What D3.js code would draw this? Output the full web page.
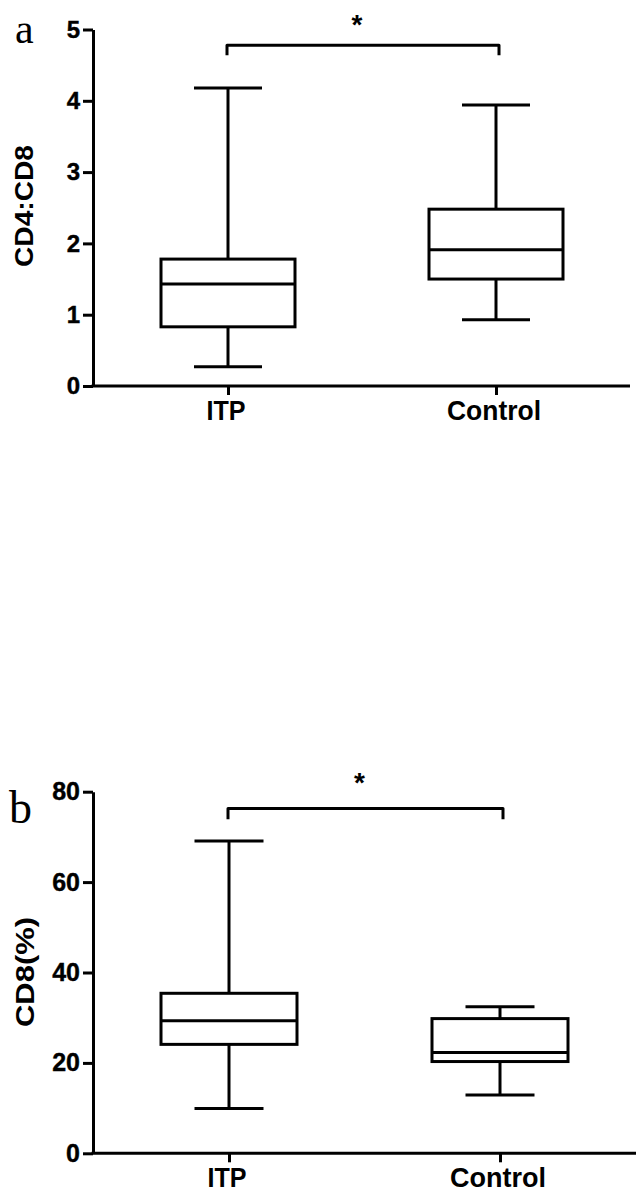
<!DOCTYPE html>
<html>
<head>
<meta charset="utf-8">
<script src="https://cdn.jsdelivr.net/npm/d3@7"></script>
<style>
  html, body { margin: 0; padding: 0; background: #fff; }
  svg { display: block; }
</style>
</head>
<body>
<svg id="chart" width="636" height="1192"></svg>
<script>
// ---------- DATA ----------
const categories = ["ITP", "Control"];

// Panel a: CD4:CD8 ratio
const ratioWhiskerLow  = [0.27, 0.93];
const ratioQ1          = [0.83, 1.50];
const ratioMedian      = [1.43, 1.91];
const ratioQ3          = [1.78, 2.48];
const ratioWhiskerHigh = [4.18, 3.94];
const ratioTicks       = [0, 1, 2, 3, 4, 5];
const ratioBracket     = [4.78, 4.64]; // bar level, drop level
const ratioLabel       = "CD4:CD8";

// Panel b: CD8 (%)
const cd8WhiskerLow  = [9.9, 12.9];
const cd8Q1          = [24.1, 20.3];
const cd8Median      = [29.3, 22.3];
const cd8Q3          = [35.4, 29.8];
const cd8WhiskerHigh = [69.1, 32.4];
const cd8Ticks       = [0, 20, 40, 60, 80];
const cd8Bracket     = [76.3, 73.9];
const cd8Label       = "CD8(%)";

const sigMark = "*";
const panelLetters = ["a", "b"];

// ---------- DRAW ----------
const svg = d3.select("#chart");
const SANS = "'Liberation Sans', Arial, Helvetica, sans-serif";
const SERIF = "'Liberation Serif', 'Times New Roman', serif";
const SW = 3;

function drawPanel(p) {
  const g = svg.append("g");
  const y = d3.scaleLinear().domain([0, p.ticks[p.ticks.length - 1]]).range([p.y0, p.y1]);
  const x = d3.scalePoint().domain(categories).range([p.xc0, p.xc1]);

  // y axis
  const yAxis = d3.axisLeft(y).tickValues(p.ticks).tickSize(10).tickSizeOuter(0).tickPadding(3)
    .tickFormat(d3.format("d"));
  const ya = g.append("g").attr("transform", `translate(${p.axisX},0)`).call(yAxis);
  ya.select(".domain").attr("stroke", "#000").attr("stroke-width", SW);
  ya.selectAll(".tick line").attr("stroke", "#000").attr("stroke-width", SW);
  ya.selectAll(".tick text").attr("fill", "#000").attr("font-family", SANS)
    .attr("font-weight", "bold").attr("font-size", p.tickFont)
    .attr("stroke", "#000").attr("stroke-width", 0.4);

  // x axis line
  g.append("line").attr("x1", p.axisX - SW / 2).attr("x2", p.xEnd)
    .attr("y1", y(0)).attr("y2", y(0)).attr("stroke", "#000").attr("stroke-width", SW);
  const xAxis = d3.axisBottom(x).tickSize(9).tickSizeOuter(0).tickFormat("");
  const xa = g.append("g").attr("transform", `translate(0,${y(0)})`).call(xAxis);
  xa.select(".domain").remove();
  xa.selectAll(".tick line").attr("stroke", "#000").attr("stroke-width", SW);

  // x category labels
  g.selectAll(".xlab").data(categories).join("text")
    .attr("x", d => x(d) - 2).attr("y", p.xLabelY)
    .attr("text-anchor", "middle").attr("font-family", SANS).attr("font-weight", "bold")
    .attr("font-size", 27)
    .attr("textLength", (d, i) => p.xLabelLen[i]).attr("lengthAdjust", "spacingAndGlyphs")
    .text(d => d);

  // y axis title
  g.append("text")
    .attr("transform", `translate(${p.titleX},${p.titleY}) rotate(-90)`)
    .attr("text-anchor", "middle").attr("font-family", SANS).attr("font-weight", "bold")
    .attr("font-size", p.titleFont)
    .attr("textLength", p.titleLen).attr("lengthAdjust", "spacingAndGlyphs")
    .text(p.label);

  // boxes
  categories.forEach((c, i) => {
    const cx = x(c);
    const bw = p.boxW, cw = p.capW;
    const st = s => s.attr("stroke", "#000").attr("stroke-width", SW).attr("fill", "none");
    st(g.append("line").attr("x1", cx).attr("x2", cx).attr("y1", y(p.q3[i])).attr("y2", y(p.hi[i])));
    st(g.append("line").attr("x1", cx).attr("x2", cx).attr("y1", y(p.q1[i])).attr("y2", y(p.lo[i])));
    st(g.append("line").attr("x1", cx - cw / 2).attr("x2", cx + cw / 2).attr("y1", y(p.hi[i])).attr("y2", y(p.hi[i])));
    st(g.append("line").attr("x1", cx - cw / 2).attr("x2", cx + cw / 2).attr("y1", y(p.lo[i])).attr("y2", y(p.lo[i])));
    st(g.append("rect").attr("x", cx - bw / 2).attr("width", bw)
      .attr("y", y(p.q3[i])).attr("height", y(p.q1[i]) - y(p.q3[i])));
    st(g.append("line").attr("x1", cx - bw / 2).attr("x2", cx + bw / 2)
      .attr("y1", y(p.med[i])).attr("y2", y(p.med[i])));
  });

  // significance bracket
  const bx0 = x(categories[0]) - 1, bx1 = x(categories[1]) + 3;
  g.append("path")
    .attr("d", `M${bx0},${y(p.bracket[1])} L${bx0},${y(p.bracket[0])} L${bx1},${y(p.bracket[0])} L${bx1},${y(p.bracket[1])}`)
    .attr("fill", "none").attr("stroke", "#000").attr("stroke-width", SW)
    .attr("stroke-linejoin", "round");
  g.append("text").attr("x", (bx0 + bx1) / 2 - 6).attr("y", p.starY)
    .attr("text-anchor", "middle").attr("font-family", SANS).attr("font-weight", "bold")
    .attr("font-size", 28).text(sigMark);

  // panel letter
  g.append("text").attr("x", p.letterX).attr("y", p.letterY)
    .attr("font-family", SERIF).attr("font-size", p.letterFont).text(p.letter);
}

drawPanel({
  y0: 386, y1: 29.5, xc0: 228, xc1: 496, axisX: 93, xEnd: 630,
  ticks: ratioTicks, tickFont: 24,
  lo: ratioWhiskerLow, q1: ratioQ1, med: ratioMedian, q3: ratioQ3, hi: ratioWhiskerHigh,
  bracket: ratioBracket, starY: 34, boxW: 134, capW: 68,
  label: ratioLabel, titleX: 33, titleY: 206, titleFont: 26, titleLen: 122,
  xLabelY: 420, xLabelLen: [39, 94],
  letter: panelLetters[0], letterX: 15, letterY: 43, letterFont: 42
});

drawPanel({
  y0: 1153.3, y1: 791.7, xc0: 229, xc1: 500, axisX: 93, xEnd: 636,
  ticks: cd8Ticks, tickFont: 25,
  lo: cd8WhiskerLow, q1: cd8Q1, med: cd8Median, q3: cd8Q3, hi: cd8WhiskerHigh,
  bracket: cd8Bracket, starY: 792, boxW: 136, capW: 69,
  label: cd8Label, titleX: 34, titleY: 972, titleFont: 26, titleLen: 110,
  xLabelY: 1187, xLabelLen: [39, 96],
  letter: panelLetters[1], letterX: 9, letterY: 823, letterFont: 46
});
</script>
</body>
</html>
